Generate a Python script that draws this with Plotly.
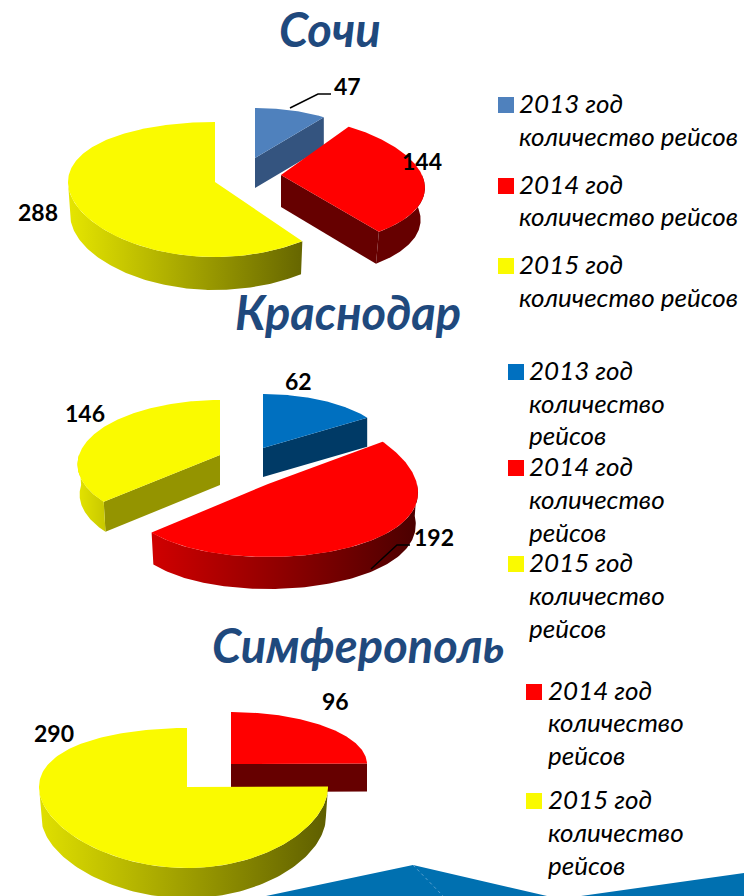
import numpy as np
import plotly.graph_objects as go

# ---------- data ----------
CITIES = ["Сочи", "Краснодар", "Симферополь"]
SOCHI_YEARS = ["2013 год", "2014 год", "2015 год"]
SOCHI_VALUES = [47, 144, 288]
KRASNODAR_YEARS = ["2013 год", "2014 год", "2015 год"]
KRASNODAR_VALUES = [62, 192, 146]
SIMFEROPOL_YEARS = ["2014 год", "2015 год"]
SIMFEROPOL_VALUES = [96, 290]
SERIES_NAME = "количество рейсов"
SERIES_NAME_WRAPPED = ["количество", "рейсов"]

# ---------- styles ----------
RED, RED_DK = "#ff0000", "#660000"
YEL = "#fafa00"
FONT = "Lato, 'Noto Sans', sans-serif"
TITLE_COLOR = "#1f497d"

# Geometry of each exploded slice: apex, radii, depth, perspective
PIES = [
    dict(values=SOCHI_VALUES, slices=[
        dict(a=(255, 158), rx=119, back=50, front=50, d=30, p=0, s=0, shrink=1, top="#4f81bd", face="#34547f"),
        dict(a=(281, 175), rx=141, back=58, front=72, d=32, p=.21, s=0, shrink=.97, top=RED, face=RED_DK, wall=(RED_DK, RED_DK)),
        dict(a=(215, 182), rx=147, back=60, front=75, d=33, p=0, s=0, shrink=.985, top=YEL, face="#666600", wall=("#e6e600", "#666600")),
    ]),
    dict(values=KRASNODAR_VALUES, slices=[
        dict(a=(263, 448), rx=126, back=54, front=54, d=29, p=0, s=0, shrink=1, top="#0070c0", face="#003a66"),
        dict(a=(268, 484), rx=146, back=76, front=73, d=32, p=.12, s=3, shrink=.985, top=RED, face=RED_DK, wall=("#d00000", "#4a0000")),
        dict(a=(220, 455), rx=141, back=55, front=74, d=30, p=.15, s=0, shrink=.985, top=YEL, face="#949400", wall=("#e4e400", "#c8c800")),
    ]),
    dict(values=SIMFEROPOL_VALUES, slices=[
        dict(a=(231, 764), rx=136, back=52, front=52, d=28, p=0, s=0, shrink=1, top=RED, face=RED_DK),
        dict(a=(187, 787), rx=144.5, back=59, front=81, d=30, p=0, s=-3.5, shrink=.985, top=YEL, face="#666600", wall=("#e0e000", "#5e5e00")),
    ]),
]


def point(g, th, dz=0.0):
    si, co = np.sin(th), np.cos(th)
    mid, k = (g["back"] + g["front"]) / 2, (g["front"] - g["back"]) / 2
    x = g["a"][0] + (g["rx"] * si + g["s"] * si * si) * (1 - g["p"] * co)
    y = g["a"][1] - (mid - k * co) * co + dz
    return x, y


def poly(fig, xs, ys, color=None, grad=None):
    kw = dict(x=xs, y=ys, mode="lines", fill="toself", line=dict(width=0),
              hoverinfo="skip", showlegend=False)
    if grad:
        kw["fillgradient"] = dict(type="horizontal", colorscale=[[0, grad[0]], [1, grad[1]]])
    else:
        kw["fillcolor"] = color
    fig.add_trace(go.Scatter(**kw))


fig = go.Figure()

for pie in PIES:
    total = sum(pie["values"])
    th0 = 0.0
    for v, g in zip(pie["values"], pie["slices"]):
        th1 = th0 + 2 * np.pi * v / total
        ax, ay = g["a"]
        d = g["d"]
        # radial faces that look towards the viewer
        for th, visible in ((th0, np.sin(th0) < -1e-6), (th1, np.sin(th1) > 1e-6 and th1 < np.pi)):
            if visible:
                cx, cy = point(g, th)
                poly(fig, [ax, cx, ax + (cx - ax) * g["shrink"], ax], [ay, cy, cy + d, ay + d], g["face"])
        # outer wall on the front half
        lo, hi = max(th0, np.pi / 2), min(th1, 3 * np.pi / 2)
        if hi > lo and "wall" in g:
            t = np.linspace(lo, hi, 120)
            xt, yt = point(g, t)
            xb, yb = point(g, t[::-1], d)
            xb = ax + (xb - ax) * g["shrink"]
            poly(fig, np.r_[xt, xb], np.r_[yt, yb], grad=g["wall"])
        # top
        t = np.linspace(th0, th1, 200)
        xt, yt = point(g, t)
        poly(fig, np.r_[ax, xt], np.r_[ay, yt], g["top"])
        th0 = th1

# ---------- annotations ----------
def text(x, y, s, size, bold=False, italic=False, color="#000", anchor="left"):
    t = f"<b>{s}</b>" if bold else s
    t = f"<i>{t}</i>" if italic else t
    fig.add_annotation(x=x, y=y, xref="x", yref="y", text=t, showarrow=False,
                       xanchor=anchor, yanchor="middle",
                       font=dict(family=FONT, size=size, color=color))


for name, cx, cy in zip(CITIES, (330, 348, 358), (29, 312, 645)):
    text(cx, cy, name, 47, bold=True, italic=True, color=TITLE_COLOR, anchor="center")

for vals, places in (
    (SOCHI_VALUES, ((347, 86), (422, 161), (38, 212))),
    (KRASNODAR_VALUES, ((298, 381), (434, 537), (85, 413))),
    (SIMFEROPOL_VALUES, ((335, 701), (54, 733))),
):
    for v, (x, y) in zip(vals, places):
        text(x, y, str(v), 23, bold=True, anchor="center")

shapes = []
DY = -2  # vertical nudge of legend text


def swatch(x, y, c):
    shapes.append(dict(type="rect", x0=x, x1=x + 16, y0=y - 8, y1=y + 8, fillcolor=c, line=dict(width=0), layer="above"))


# Sochi legend: two lines per entry
for yr, c, y1, y2 in zip(SOCHI_YEARS, ("#4f81bd", RED, YEL), (105, 186, 266), (138, 218, 299)):
    swatch(498, y1, c)
    text(517, y1 + DY, yr, 26, italic=True)
    text(517, y2 + DY, SERIES_NAME, 26, italic=True)
# Krasnodar legend: three lines per entry
for yr, c, ys in zip(KRASNODAR_YEARS, ("#0070c0", RED, YEL), ((372, 405, 437), (468, 501, 534), (564, 597, 630))):
    swatch(508, ys[0], c)
    text(527, ys[0] + DY, yr, 26, italic=True)
    for s, y in zip(SERIES_NAME_WRAPPED, ys[1:]):
        text(527, y + DY, s, 26, italic=True)
# Simferopol legend
for yr, c, ys in zip(SIMFEROPOL_YEARS, (RED, YEL), ((692, 724, 757), (801, 834, 867))):
    swatch(526, ys[0], c)
    text(546, ys[0] + DY, yr, 26, italic=True)
    for s, y in zip(SERIES_NAME_WRAPPED, ys[1:]):
        text(546, y + DY, s, 26, italic=True)

# leader lines
for path in ("M290,108 L318,94 L331,94", "M371,569 L397,545 L410,545"):
    shapes.append(dict(type="path", path=path, line=dict(color="#000", width=1.5), layer="above"))

# decorative blue band along the bottom edge
shapes.append(dict(type="path", path="M266,896 L413,865 L547,896 Z", fillcolor="#0070b0", line=dict(width=0), layer="above"))
shapes.append(dict(type="path", path="M581,896 L744,873 L744,896 Z", fillcolor="#0070b0", line=dict(width=0), layer="above"))
shapes.append(dict(type="path", path="M413,865 L443,896", line=dict(color="#5aa0cf", width=1, dash="dot"), layer="above"))

fig.update_layout(
    width=744, height=896, margin=dict(l=0, r=0, t=0, b=0),
    paper_bgcolor="white", plot_bgcolor="white", shapes=shapes,
    xaxis=dict(range=[0, 744], visible=False, fixedrange=True),
    yaxis=dict(range=[896, 0], visible=False, fixedrange=True),
)
fig.write_html("out.html", config=dict(displayModeBar=False),
               post_script="document.body.style.margin='0';document.body.style.overflow='hidden';")
